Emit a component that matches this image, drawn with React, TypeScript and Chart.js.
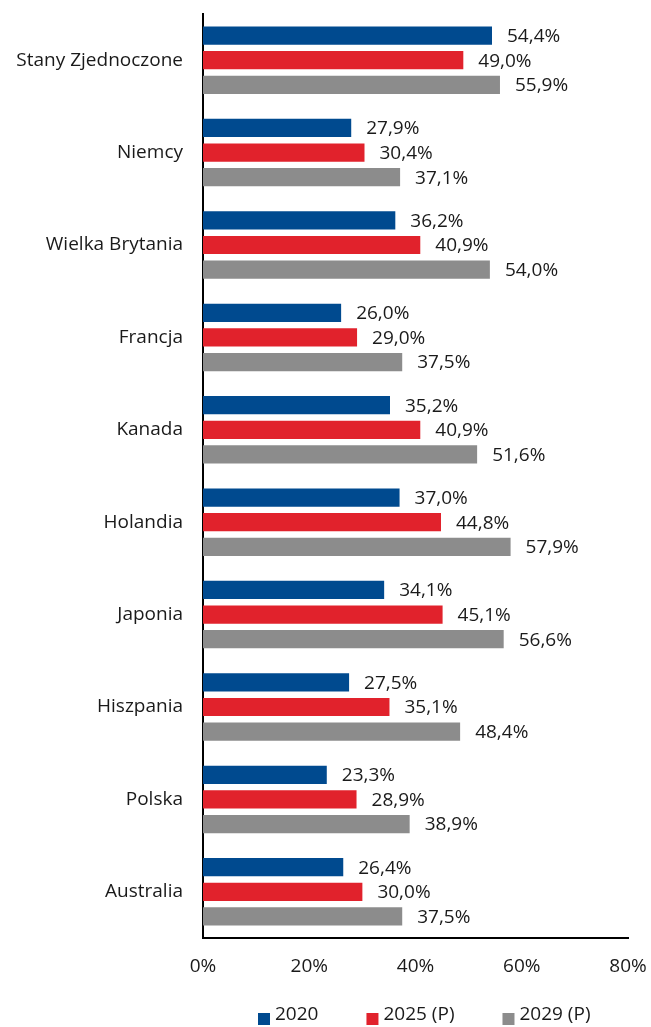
import React, { useEffect, useRef } from "react";
import { Chart, registerables } from "chart.js";

Chart.register(...registerables);

const categories = [
  "Stany Zjednoczone",
  "Niemcy",
  "Wielka Brytania",
  "Francja",
  "Kanada",
  "Holandia",
  "Japonia",
  "Hiszpania",
  "Polska",
  "Australia",
];
const series2020 = [54.4, 27.9, 36.2, 26.0, 35.2, 37.0, 34.1, 27.5, 23.3, 26.4];
const series2025 = [49.0, 30.4, 40.9, 29.0, 40.9, 44.8, 45.1, 35.1, 28.9, 30.0];
const series2029 = [55.9, 37.1, 54.0, 37.5, 51.6, 57.9, 56.6, 48.4, 38.9, 37.5];
const seriesNames = ["2020", "2025 (P)", "2029 (P)"];
const seriesColors = ["#004a8f", "#e1222c", "#8c8c8c"];
const xTicks = [0, 20, 40, 60, 80];

const FONT = "'Open Sans'";
const FSIZE = 19;
const TEXT = "#1a1a1a";

const valueLabels = {
  id: "valueLabels",
  afterDatasetsDraw(chart: any) {
    const ctx = chart.ctx;
    ctx.save();
    ctx.font = `${FSIZE}px ${FONT}`;
    ctx.fillStyle = TEXT;
    ctx.textAlign = "left";
    ctx.textBaseline = "middle";
    chart.data.datasets.forEach((ds: any, i: number) => {
      const meta = chart.getDatasetMeta(i);
      meta.data.forEach((bar: any, j: number) => {
        const v = ds.data[j];
        const txt = v.toFixed(1).replace(".", ",") + "%";
        ctx.fillText(txt, bar.x + 15, bar.y + 1);
      });
    });
    ctx.restore();
  },
};

const customLegend = {
  id: "customLegend",
  afterDraw(chart: any) {
    const ctx = chart.ctx;
    const area = chart.chartArea;
    ctx.save();
    ctx.font = `${FSIZE}px ${FONT}`;
    ctx.textBaseline = "middle";
    ctx.textAlign = "left";
    const y = chart.height - 12;
    let x = area.left + 55;
    chart.data.datasets.forEach((ds: any) => {
      ctx.fillStyle = ds.backgroundColor;
      ctx.fillRect(x, y - 2, 12, 12);
      ctx.fillStyle = TEXT;
      ctx.fillText(ds.label, x + 17, y);
      x += 17 + ctx.measureText(ds.label).width + 48;
    });
    ctx.restore();
  },
};

export default function App() {
  const ref = useRef<HTMLCanvasElement>(null);
  useEffect(() => {
    if (!ref.current) return;
    const chart = new Chart(ref.current, {
      type: "bar",
      data: {
        labels: categories,
        datasets: seriesNames.map((name, i) => ({
          label: name,
          data: [series2020, series2025, series2029][i],
          backgroundColor: seriesColors[i],
        })),
      },
      options: {
        indexAxis: "y",
        animation: false,
        responsive: true,
        maintainAspectRatio: false,
        layout: { padding: { top: 14, right: 23, left: 0, bottom: 0 } },
        datasets: {
          bar: { categoryPercentage: 0.8, barPercentage: 0.74 },
        },
        plugins: {
          legend: { display: false },
          tooltip: { enabled: false },
        },
        scales: {
          x: {
            min: 0,
            max: 80,
            afterBuildTicks: (s: any) => {
              s.ticks = xTicks.map((v) => ({ value: v }));
            },
            afterFit: (s: any) => {
              s.height = 89;
              s.paddingLeft = 0;
              s.paddingRight = 0;
            },
            ticks: {
              font: { family: FONT, size: FSIZE },
              color: TEXT,
              padding: 17,
              maxRotation: 0,
              callback: (v: any) => v + "%",
            },
            grid: { display: false, drawTicks: false },
            border: { display: true, color: "#000", width: 2 },
          },
          y: {
            afterFit: (s: any) => {
              s.width = 203;
              s.paddingTop = 0;
              s.paddingBottom = 0;
            },
            ticks: {
              font: { family: FONT, size: FSIZE },
              color: TEXT,
              padding: 20,
            },
            grid: { display: false, drawTicks: false },
            border: { display: true, color: "#000", width: 2 },
          },
        },
      },
      plugins: [valueLabels, customLegend],
    });
    return () => chart.destroy();
  }, []);
  return (
    <div
      style={{
        position: "fixed",
        top: 0,
        left: 0,
        width: 651,
        height: 1027,
        background: "#fff",
      }}
    >
      <canvas ref={ref} />
    </div>
  );
}
